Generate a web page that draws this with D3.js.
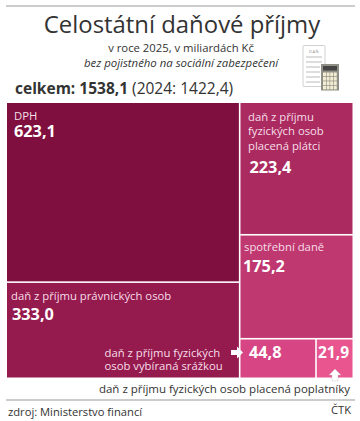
<!DOCTYPE html>
<html>
<head>
<meta charset="utf-8">
<script src="https://cdn.jsdelivr.net/npm/d3@7"></script>
<style>
  html, body { margin: 0; padding: 0; background: #fff; }
  text { font-family: "Open Sans", sans-serif; }
</style>
</head>
<body>
<svg id="chart" width="360" height="421"></svg>
<script>
// values in bn CZK, left column and right column of the treemap
const leftNames = ["DPH", "daň z příjmu právnických osob"];
const leftValues = [623.1, 333.0];
const rightNames = ["daň z příjmu fyzických osob placená plátci", "spotřební daně"];
const rightValues = [223.4, 175.2];
const smallNames = ["daň z příjmu fyzických osob vybíraná srážkou", "daň z příjmu fyzických osob placená poplatníky"];
const smallValues = [44.8, 21.9];
const colors = ["#7f0f3e", "#951a4e", "#ab2b60", "#c03870", "#d84584", "#e8558f"];

const fmt = v => v.toFixed(1).replace(".", ",");
const svg = d3.select("#chart");
const ink = "#333333";

const leaf = (names, values) => names.map((n, i) => ({name: n, value: values[i]}));
const root = d3.hierarchy({children: [
  {children: leaf(leftNames, leftValues)},
  {children: [...leaf(rightNames, rightValues), {children: leaf(smallNames, smallValues)}]}
]}).sum(d => d.value || 0);

// slice/dice by depth gives the two columns and the split bottom row
d3.treemap()
  .tile(d3.treemapSliceDice)
  .size([345.5, 274.5])
  .paddingInner(1.6)(root);

const g = svg.append("g").attr("transform", "translate(7,103)");
const leaves = root.leaves();
g.selectAll("rect")
  .data(leaves)
  .join("rect")
    .attr("x", d => d.x0)
    .attr("y", d => d.y0)
    .attr("width", d => d.x1 - d.x0)
    .attr("height", d => d.y1 - d.y0)
    .attr("fill", (d, i) => colors[i]);

function label(x, y, str, size, fill, weight, anchor, style) {
  svg.append("text")
    .attr("x", x).attr("y", y)
    .attr("font-size", size)
    .attr("fill", fill)
    .attr("font-weight", weight || 400)
    .attr("text-anchor", anchor || "start")
    .attr("font-style", style || "normal")
    .text(str);
}

// rules
[6, 400].forEach(y => svg.append("line")
  .attr("x1", 6).attr("x2", 355).attr("y1", y).attr("y2", y)
  .attr("stroke", "#999").attr("stroke-width", 1));

// heading
label(182, 33, "Celostátní daňové příjmy", 23.9, ink, 400, "middle");
label(181, 52, "v roce 2025, v miliardách Kč", 11.3, ink, 400, "middle");
label(181, 67, "bez pojistného na sociální zabezpečení", 11.4, ink, 400, "middle", "italic");
const total = svg.append("text").attr("x", 15).attr("y", 94).attr("font-size", 15.5).attr("fill", ink);
total.append("tspan").attr("font-weight", 700).text("celkem: 1538,1 ");
total.append("tspan").text("(2024: 1422,4)");

// tile labels
const white = "#fff", pale = "#f6dfe8", lab = 11.3, num = 16.3;
label(14, 119.5, "DPH", lab, pale);
label(14, 137, fmt(leftValues[0]), num, white, 700);
label(248, 121, "daň z příjmu", lab, pale);
label(248, 135, "fyzických osob", lab, pale);
label(248, 150, "placená plátci", lab, pale);
label(249.5, 173, fmt(rightValues[0]), num, white, 700);
label(244, 251, rightNames[1], lab, pale);
label(243, 272, fmt(rightValues[1]), num, white, 700);
label(11, 299.5, leftNames[1], lab, pale);
label(12, 319.5, fmt(leftValues[1]), num, white, 700);
label(104.5, 357, "daň z příjmu fyzických", lab, pale);
label(104.5, 369.5, "osob vybíraná srážkou", lab, pale);
label(249, 358, fmt(smallValues[0]), num, white, 700);
label(318, 358, fmt(smallValues[1]), 15.5, white, 700);
label(350, 393, smallNames[1], 11.5, ink, 400, "end");

// source
label(8, 416, "zdroj: Ministerstvo financí", 11.2, ink);
label(351, 414, "ČTK", 11.2, ink, 400, "end");

// arrows
svg.append("path").attr("fill", white)
  .attr("d", "M231,350h6v-3.5l6,6l-6,6v-3.5h-6z");
svg.append("path").attr("fill", white).attr("stroke", "#bbb").attr("stroke-width", 0.4)
  .attr("d", "M335,369l6,6h-3v6h-6v-6h-3z");

// tax form + calculator icon
const icon = svg.append("g");
icon.append("rect").attr("x", 303).attr("y", 45.5).attr("width", 22).attr("height", 41)
  .attr("fill", "#fff").attr("stroke", "#c4c4c4").attr("stroke-width", 0.8).attr("rx", 1);
svg.append("text").attr("x", 314).attr("y", 53).attr("font-size", 3.8).attr("letter-spacing", 0.6)
  .attr("text-anchor", "middle").attr("fill", "#888").text("DAŇ");
[57, 62, 67, 72, 77, 82].forEach(y => icon.append("line")
  .attr("x1", 306).attr("x2", y > 66 ? 320 : 322).attr("y1", y).attr("y2", y)
  .attr("stroke", "#aaa").attr("stroke-width", 0.8));
icon.append("rect").attr("x", 321).attr("y", 64).attr("width", 18).attr("height", 26.5).attr("fill", "#8f8f86");
icon.append("rect").attr("x", 323).attr("y", 66).attr("width", 14).attr("height", 4.5).attr("fill", "#454545");
d3.range(4).forEach(r => d3.range(4).forEach(c => icon.append("rect")
  .attr("x", 323 + c * 3.6).attr("y", 72.5 + r * 4.4)
  .attr("width", 3).attr("height", 3.7).attr("fill", "#f1ecd2")));
</script>
</body>
</html>
